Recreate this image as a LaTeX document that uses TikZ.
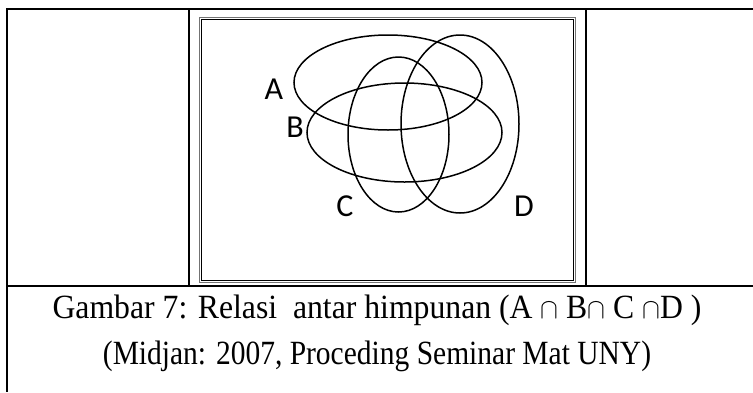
\documentclass[tikz,border=0pt]{standalone}
\usepackage{fontspec}
\setmainfont{Liberation Serif}
\newfontfamily\lblfont{Carlito}
\usetikzlibrary{shapes.geometric}
\begin{document}
\begin{tikzpicture}[x=1pt,y=-1pt,
  tbl/.style={line width=2pt,black},
  setshape/.style={ellipse,draw,line width=1.5pt,inner sep=0pt,outer sep=0pt},
  setlbl/.style={font=\lblfont\fontsize{32}{32}\selectfont,anchor=base,inner sep=0pt},
  captxt/.style={font=\fontsize{29.5}{30}\selectfont,anchor=base,inner sep=0pt}]
\useasboundingbox (0,0) rectangle (753,392);
% table
\draw[tbl] (753,9) -- (7,9) -- (7,392);
\draw[tbl] (7,286) -- (753,286);
\draw[tbl] (189,9) -- (189,286);
\draw[tbl] (586,9) -- (586,286);
% inner frame
\draw[line width=1pt,black!55] (199.5,17.5) rectangle (575.5,282.5);
\draw[line width=1.5pt,black] (201.5,19.5) rectangle (573.5,280.5);
% sets
\node[setshape,minimum width=188pt,minimum height=95pt] (A) at (388,82.5) {};
\node[setshape,minimum width=195pt,minimum height=99pt] (B) at (404.5,132.5) {};
\node[setshape,minimum width=101pt,minimum height=155pt] (C) at (398.5,134.5) {};
\node[setshape,minimum width=118pt,minimum height=178pt] (D) at (460,124) {};
% labels
\node[setlbl] (la) at (274,99.5) {A};
\node[setlbl] (lb) at (295,137.5) {B};
\node[setlbl] (lc) at (345,216.5) {C};
\node[setlbl] (ld) at (524,216.5) {D};
% caption
\node[captxt] (cap1) at (377,318) {\scalebox{1.075}[1.15]{Gambar 7: Relasi\ \ antar himpunan (A $\cap$ B$\cap$ C $\cap$D )}};
\node[captxt] (cap2) at (377,364) {\scalebox{1}[1.15]{(Midjan: 2007, Proceding Seminar Mat UNY)}};
\end{tikzpicture}
\end{document}
